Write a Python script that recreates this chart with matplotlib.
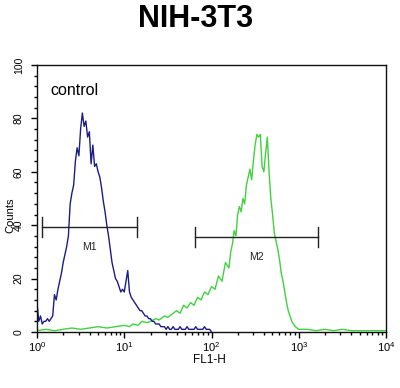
import numpy as np
import matplotlib
matplotlib.use("Agg")
import matplotlib.pyplot as plt
import matplotlib.transforms as mtransforms
from matplotlib.ticker import MultipleLocator, FixedLocator, LogLocator, NullFormatter

plt.rcParams['font.family'] = ['Liberation Sans', 'DejaVu Sans']
plt.rcParams['mathtext.fontset'] = 'custom'
plt.rcParams['mathtext.rm'] = 'Liberation Sans'
plt.rcParams['mathtext.default'] = 'regular'

title = "NIH-3T3"
xlabel = "FL1-H"
ylabel = "Counts"
legend_text = "control"

# Control (blue) histogram: log10(FL1-H) and counts
control_log = [0.00, 0.02, 0.04, 0.06, 0.08, 0.10, 0.12, 0.14, 0.16, 0.18,
               0.20, 0.22, 0.24, 0.26, 0.28, 0.30, 0.32, 0.34, 0.36, 0.38,
               0.40, 0.42, 0.44, 0.46, 0.48, 0.50, 0.52, 0.54, 0.56, 0.58,
               0.60, 0.62, 0.64, 0.66, 0.68, 0.70, 0.72, 0.74, 0.76, 0.78,
               0.80, 0.82, 0.84, 0.86, 0.88, 0.90, 0.92, 0.94, 0.96, 0.98,
               1.00, 1.02, 1.04, 1.06, 1.08, 1.10, 1.12, 1.14, 1.16, 1.18,
               1.20, 1.22, 1.24, 1.26, 1.28, 1.30, 1.32, 1.34, 1.36, 1.38,
               1.40, 1.42, 1.44, 1.46, 1.48, 1.50, 1.52, 1.54, 1.56, 1.58,
               1.60, 1.62, 1.64, 1.66, 1.68, 1.70, 1.72, 1.74, 1.76, 1.78,
               1.80, 1.82, 1.84, 1.86, 1.88, 1.90, 1.92, 1.94, 1.96, 1.98,
               2.00]
control_counts = [11, 4, 6, 3, 4, 4, 5, 4, 5, 6,
                  14, 12, 16, 19, 22, 26, 29, 32, 36, 48,
                  52, 55, 64, 69, 66, 76, 82, 77, 79, 73,
                  75, 63, 70, 62, 63, 60, 58, 54, 49, 45,
                  40, 36, 31, 26, 23, 20, 19, 17, 15, 16,
                  15, 19, 23, 15, 13, 12, 11, 10, 9, 8,
                  8, 7, 6, 6, 5, 5, 4, 4, 3, 3,
                  3, 2, 2, 2, 1, 2, 1, 1, 2, 1,
                  1, 1, 2, 1, 1, 1, 2, 1, 1, 1,
                  1, 2, 1, 1, 1, 1, 2, 1, 1, 1,
                  0]

# Sample (green) histogram
sample_log = [0.00, 0.10, 0.20, 0.30, 0.40, 0.50, 0.60, 0.70, 0.80, 0.90,
              1.00, 1.06, 1.10, 1.16, 1.20, 1.26, 1.30, 1.36, 1.40, 1.46,
              1.50, 1.56, 1.60, 1.64, 1.68, 1.72, 1.76, 1.80, 1.84, 1.88,
              1.92, 1.96, 2.00, 2.04, 2.08, 2.12, 2.16, 2.20, 2.22, 2.24,
              2.26, 2.28, 2.30, 2.32, 2.34, 2.36, 2.38, 2.40, 2.42, 2.44,
              2.46, 2.48, 2.50, 2.52, 2.54, 2.56, 2.58, 2.60, 2.62, 2.64,
              2.66, 2.68, 2.70, 2.72, 2.74, 2.76, 2.78, 2.80, 2.82, 2.84,
              2.86, 2.88, 2.90, 2.92, 2.94, 2.96, 2.98, 3.00, 3.10, 3.20,
              3.30, 3.40, 3.50, 3.60, 3.70, 3.80, 3.90, 4.00]
sample_counts = [0.5, 1, 0.5, 1, 1.5, 1, 1.5, 2, 1.5, 2,
                 2.5, 2, 3, 2.5, 4, 3.5, 4, 5, 4.5, 6,
                 5.5, 7, 8, 7, 10, 9, 11, 10, 13, 12,
                 15, 14, 17, 16, 21, 19, 26, 24, 30, 33,
                 38, 36, 44, 47, 45, 50, 48, 55, 58, 61,
                 57, 64, 70, 74, 73, 74, 62, 60, 67, 73,
                 60, 50, 44, 37, 34, 31, 27, 22, 19, 15,
                 11, 8, 6, 4, 3, 2, 1.5, 1, 1, 0.5,
                 1, 0.5, 1, 0.5, 0.5, 0.5, 0.5, 0.5]

# Markers: name, log start, log end, level
marker_names = ["M1", "M2"]
marker_start_log = [0.057, 1.81]
marker_end_log = [1.145, 3.22]
marker_level = [39.3, 35.5]

fig = plt.figure(figsize=(4.0, 3.88), dpi=100)
ax = fig.add_axes([0.0925, 0.1443, 0.965 - 0.0925, 0.8325 - 0.1443])

ax.plot(10 ** np.array(sample_log), sample_counts, color='#3fd23f', lw=1.0)
ax.plot(10 ** np.array(control_log), control_counts, color='#1c1c88', lw=1.0)

for name, s, e, lvl in zip(marker_names, marker_start_log, marker_end_log, marker_level):
    xs, xe = 10 ** s, 10 ** e
    ax.plot([xs, xe], [lvl, lvl], color='#222222', lw=1.0)
    ax.plot([xs, xs], [lvl - 3.8, lvl + 3.8], color='#222222', lw=1.0)
    ax.plot([xe, xe], [lvl - 3.8, lvl + 3.8], color='#222222', lw=1.0)
    xm = 10 ** ((s + e) / 2)
    ax.text(xm, lvl - 5.5, name, ha='center', va='top', fontsize=7.5, color='#222222')

ax.set_xscale('log')
ax.set_xlim(1, 1e4)
ax.set_ylim(0, 100)

ax.yaxis.set_major_locator(MultipleLocator(20))
ax.yaxis.set_minor_locator(MultipleLocator(4))
ax.xaxis.set_major_locator(FixedLocator([1, 10, 100, 1000, 10000]))
ax.set_xticklabels(['$10^{0}$', '$10^{1}$', '$10^{2}$', '$10^{3}$', '$10^{4}$'])
ax.xaxis.set_minor_locator(LogLocator(base=10, subs=np.arange(2, 10)))
ax.xaxis.set_minor_formatter(NullFormatter())

ax.tick_params(axis='y', which='major', direction='out', length=4.5, width=1,
               labelsize=7.5, pad=5)
ax.tick_params(axis='y', which='minor', direction='out', length=2.5, width=1)
ax.tick_params(axis='x', which='major', direction='out', length=4, width=1,
               labelsize=8, pad=2)
ax.tick_params(axis='x', which='minor', direction='out', length=2.5, width=1)
for lab in ax.get_yticklabels():
    lab.set_rotation(90)
    lab.set_va('center')

for sp in ax.spines.values():
    sp.set_linewidth(1.0)
    sp.set_color('#111111')

ax.text(0.037, 88.8, legend_text,
        transform=mtransforms.blended_transform_factory(ax.transAxes, ax.transData),
        fontsize=11.5, va='baseline', ha='left')

fig.text(196 / 400, 1 - 19 / 388, title, fontsize=22, fontweight='bold',
         ha='center', va='center')
fig.text(10 / 400, 1 - 215 / 388, ylabel, fontsize=8, rotation=90,
         ha='center', va='center')
fig.text(209 / 400, 1 - 360 / 388, xlabel, fontsize=8.5, ha='center', va='center')

fig.savefig('out.png', dpi=100)
